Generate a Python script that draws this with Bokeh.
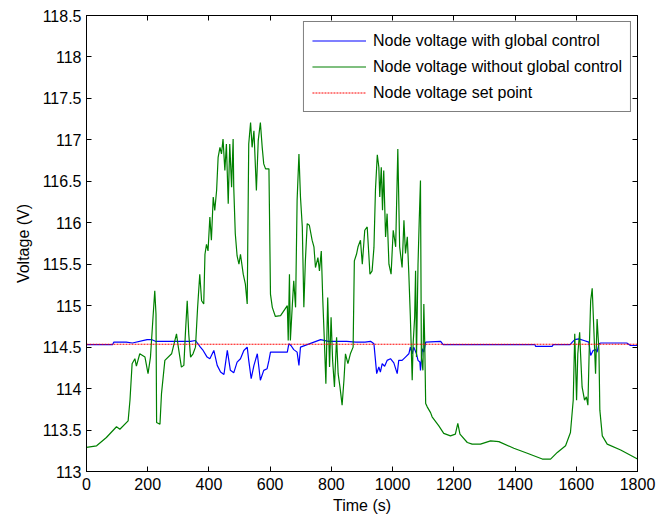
from bokeh.plotting import figure
from bokeh.models import Range1d, FixedTicker, LinearAxis, Legend, LegendItem, CustomLabelingPolicy
from bokeh.embed import file_html
from bokeh.resources import INLINE

# ---- data ----
t_green = [0, 33, 65, 98, 109, 136, 142, 149, 158, 163, 174, 191, 201, 209, 218, 223, 227, 229, 240, 245,
           256, 278, 294, 300, 310, 318, 323, 329, 334, 340, 348, 356, 363, 370, 376, 383, 387, 392, 397, 403,
           408, 414, 419, 425, 430, 436, 441, 446, 452, 457, 463, 468, 474, 479, 481, 486, 492, 498, 503, 512,
           519, 525, 530, 536, 541, 547, 555, 561, 568, 574, 579, 585, 596, 601, 607, 617, 634, 656, 659, 663,
           666, 672, 677, 683, 688, 694, 699, 705, 710, 715, 721, 728, 737, 743, 748, 756, 761, 767, 772, 777,
           782, 788, 794, 799, 804, 810, 817, 822, 828, 835, 841, 846, 854, 862, 871, 875, 882, 887, 895, 901,
           909, 917, 926, 933, 939, 944, 950, 955, 958, 963, 967, 971, 977, 982, 988, 995, 1002, 1010, 1017, 1023,
           1031, 1037, 1042, 1048, 1053, 1058, 1064, 1067, 1072, 1075, 1078, 1083, 1087, 1091, 1094, 1099, 1102, 1105, 1108, 1113,
           1124, 1129, 1151, 1167, 1189, 1205, 1213, 1220, 1244, 1260, 1287, 1320, 1347, 1396, 1440, 1489, 1516, 1538, 1565, 1581,
           1590, 1595, 1601, 1605, 1611, 1614, 1619, 1627, 1633, 1638, 1642, 1647, 1652, 1657, 1663, 1668, 1674, 1677, 1685, 1701,
           1745, 1800]
v_green = [113.29, 113.31, 113.41, 113.54, 113.51, 113.61, 113.86, 114.30, 114.36, 114.27, 114.42, 114.38, 114.18, 114.38, 114.90, 115.18, 114.90, 113.59, 113.57, 113.94,
           114.34, 114.42, 114.66, 114.50, 114.26, 114.28, 114.66, 115.06, 114.66, 114.38, 114.42, 114.50, 114.98, 115.38, 115.06, 115.02, 115.62, 115.74, 115.66, 116.07,
           115.79, 116.31, 116.15, 116.39, 116.79, 116.91, 116.83, 117.01, 116.63, 116.95, 116.23, 116.95, 116.43, 117.01, 116.43, 115.87, 115.60, 115.50, 115.62, 115.38,
           115.26, 115.02, 116.95, 117.21, 116.91, 117.11, 116.39, 116.99, 117.21, 116.91, 116.71, 116.65, 116.65, 115.14, 114.98, 114.87, 114.88, 115.00, 114.58, 115.38,
           114.58, 114.98, 115.30, 114.98, 116.27, 116.83, 116.31, 115.95, 114.98, 115.54, 115.99, 115.97, 115.79, 115.71, 115.46, 115.58, 115.42, 115.66, 115.06, 114.58,
           114.06, 115.10, 114.26, 114.86, 114.34, 114.02, 114.62, 114.18, 114.02, 113.80, 114.10, 114.42, 114.30, 114.42, 114.50, 115.54, 115.62, 115.71, 115.79, 115.50,
           115.91, 115.95, 115.38, 115.42, 115.70, 116.40, 116.82, 116.67, 116.31, 116.67, 116.15, 116.63, 115.83, 116.11, 115.50, 115.38, 115.91, 115.71, 116.89, 115.71,
           115.46, 116.03, 115.63, 115.83, 115.38, 114.86, 114.10, 114.54, 114.86, 115.42, 114.38, 115.50, 116.03, 116.51, 114.38, 114.22, 115.02, 114.54, 113.82, 113.78,
           113.71, 113.66, 113.55, 113.46, 113.43, 113.45, 113.58, 113.45, 113.35, 113.33, 113.33, 113.37, 113.36, 113.28, 113.22, 113.15, 113.15, 113.23, 113.31, 113.47,
           113.86, 114.66, 113.86, 114.42, 114.68, 114.42, 114.02, 113.86, 113.90, 113.80, 114.42, 115.06, 115.21, 114.75, 114.18, 114.84, 114.46, 113.74, 113.43, 113.33,
           113.26, 113.15]

t_blue = [0, 85, 89, 130, 150, 198, 214, 225, 340, 356, 372, 381, 394, 403, 416, 427, 438, 449, 460, 470,
          481, 492, 503, 514, 525, 530, 538, 547, 558, 568, 579, 590, 596, 601, 656, 661, 668, 677, 688, 694,
          699, 721, 743, 765, 790, 850, 880, 910, 928, 939, 948, 955, 960, 966, 974, 982, 993, 1004, 1015, 1020,
          1031, 1042, 1053, 1058, 1064, 1069, 1078, 1083, 1089, 1091, 1097, 1102, 1108, 1157, 1165, 1465, 1467, 1521, 1525, 1580,
          1587, 1595, 1608, 1625, 1641, 1647, 1655, 1663, 1668, 1674, 1680, 1765, 1777, 1800]
v_blue = [114.53, 114.53, 114.56, 114.56, 114.55, 114.59, 114.59, 114.57, 114.57, 114.58, 114.50, 114.46, 114.38, 114.36, 114.46, 114.28, 114.20, 114.17, 114.46, 114.22,
          114.19, 114.32, 114.36, 114.46, 114.50, 114.34, 114.12, 114.28, 114.42, 114.10, 114.22, 114.24, 114.34, 114.44, 114.44, 114.54, 114.52, 114.47, 114.44, 114.28,
          114.50, 114.53, 114.56, 114.59, 114.57, 114.57, 114.56, 114.56, 114.57, 114.54, 114.18, 114.26, 114.20, 114.30, 114.27, 114.34, 114.36, 114.31, 114.18, 114.34,
          114.34, 114.38, 114.42, 114.50, 114.42, 114.50, 114.42, 114.34, 114.32, 114.22, 114.48, 114.44, 114.56, 114.57, 114.53, 114.53, 114.51, 114.51, 114.53, 114.53,
          114.56, 114.59, 114.60, 114.58, 114.56, 114.40, 114.46, 114.47, 114.44, 114.54, 114.55, 114.55, 114.52, 114.52]

t_set = [0, 1800]
v_set = [114.535, 114.535]

x_ticks = [0, 200, 400, 600, 800, 1000, 1200, 1400, 1600, 1800]
y_ticks = [113, 113.5, 114, 114.5, 115, 115.5, 116, 116.5, 117, 117.5, 118, 118.5]
y_tick_labels = ["113", "113.5", "114", "114.5", "115", "115.5", "116", "116.5", "117", "117.5", "118", "118.5"]

labels = ["Node voltage with global control", "Node voltage without global control", "Node voltage set point"]

FONT = "Liberation Sans"
FS = "16px"

p = figure(width=656, height=525, output_backend="svg", toolbar_location=None,
           x_range=Range1d(0, 1800), y_range=Range1d(113, 118.5),
           min_border_left=86, min_border_right=19, min_border_top=15, min_border_bottom=54)
p.xgrid.visible = False
p.ygrid.visible = False
p.outline_line_color = "black"
p.outline_line_width = 1
p.background_fill_color = "white"
p.border_fill_color = "white"

r_blue = p.line(t_blue, v_blue, line_color="#0000FF", line_width=1.2)
r_green = p.line(t_green, v_green, line_color="#008000", line_width=1.2)
r_set = p.line(t_set, v_set, line_color="#FF0000", line_width=1, line_dash="2 1")

overrides = {float(k): s for k, s in zip(y_ticks, y_tick_labels)}

for ax in p.xaxis:
    ax.ticker = FixedTicker(ticks=x_ticks)
    ax.axis_label = "Time (s)"
for ax in p.yaxis:
    ax.ticker = FixedTicker(ticks=y_ticks)
    ax.major_label_overrides = overrides
    ax.axis_label = "Voltage (V)"

for ax in list(p.xaxis) + list(p.yaxis):
    ax.major_tick_in = 5
    ax.major_tick_out = 0
    ax.minor_tick_in = 0
    ax.minor_tick_out = 0
    ax.axis_line_color = "black"
    ax.major_tick_line_color = "black"
    ax.major_label_text_font = FONT
    ax.major_label_text_font_size = FS
    ax.major_label_text_color = "black"
    ax.axis_label_text_font = FONT
    ax.axis_label_text_font_size = FS
    ax.axis_label_text_font_style = "normal"
    ax.axis_label_text_color = "black"

p.xaxis.major_label_standoff = 6
p.yaxis.major_label_standoff = 5
p.xaxis.axis_label_standoff = 4
p.yaxis.axis_label_standoff = 8

no_labels = "const all = [...indices]; for (const i of all) indices.unset(i); return indices;"
top_ax = LinearAxis(ticker=FixedTicker(ticks=x_ticks), major_tick_in=5, major_tick_out=0,
                    minor_tick_in=0, minor_tick_out=0, major_label_standoff=0,
                    major_label_text_font_size="0px",
                    major_label_policy=CustomLabelingPolicy(code=no_labels),
                    axis_line_color="black")
right_ax = LinearAxis(ticker=FixedTicker(ticks=y_ticks), major_tick_in=5, major_tick_out=0,
                      minor_tick_in=0, minor_tick_out=0, major_label_standoff=0,
                      major_label_text_font_size="0px",
                      major_label_policy=CustomLabelingPolicy(code=no_labels),
                      axis_line_color="black")
p.add_layout(top_ax, "above")
p.add_layout(right_ax, "right")

legend = Legend(items=[LegendItem(label=labels[0], renderers=[r_blue]),
                       LegendItem(label=labels[1], renderers=[r_green]),
                       LegendItem(label=labels[2], renderers=[r_set])],
                location="top_right")
legend.margin = 6
legend.padding = 8
legend.spacing = 5
legend.label_height = 21
legend.glyph_height = 21
legend.glyph_width = 54
legend.label_standoff = 7
legend.label_text_font = FONT
legend.label_text_font_size = FS
legend.label_text_color = "black"
legend.border_line_color = "black"
legend.border_line_width = 1
legend.background_fill_color = "white"
legend.background_fill_alpha = 1
p.add_layout(legend, "center")

open("out.html", "w").write(file_html(p, INLINE))
